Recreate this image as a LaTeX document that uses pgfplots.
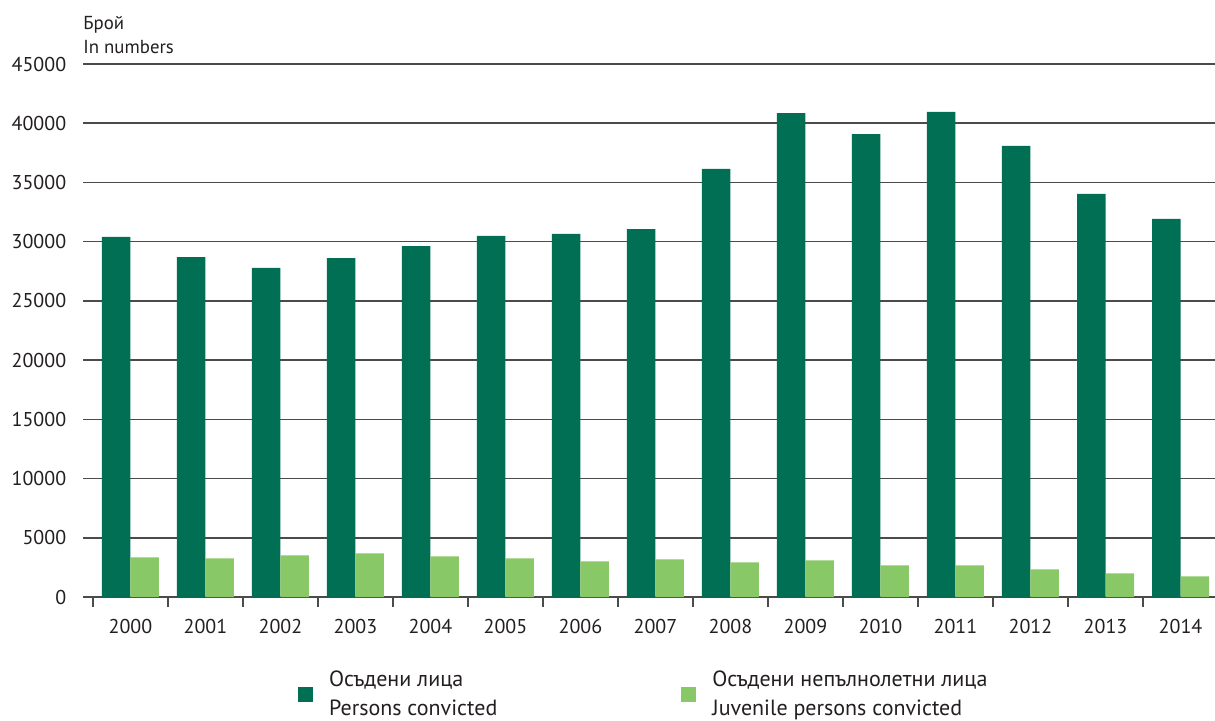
\documentclass[border=0pt]{standalone}
\usepackage{fontspec}
\setmainfont{PT Sans}
\usepackage{pgfplots}
\pgfplotsset{compat=1.18}
\definecolor{darkg}{RGB}{0,111,83}
\definecolor{lightg}{RGB}{137,200,102}
\definecolor{txt}{RGB}{35,31,32}
\definecolor{gridc}{RGB}{75,75,75}
\pgfplotstableread{
x dark light
0 30400 3340
1 28700 3260
2 27780 3510
3 28620 3680
4 29630 3425
5 30480 3260
6 30650 3005
7 31070 3170
8 36140 2920
9 40860 3090
10 39090 2670
11 40950 2670
12 38080 2330
13 34030 1995
14 31920 1740
}\datatable
\begin{document}
\begin{tikzpicture}
\path[use as bounding box] (0,0) rectangle (607.5pt,360pt);
\begin{axis}[
  at={(41.5pt,61.5pt)}, anchor=south west,
  scale only axis, width=566pt, height=266.5pt,
  ymin=0, ymax=45000,
  xmin=-0.632, xmax=14.46,
  ytick={0,5000,...,45000},
  scaled y ticks=false,
  xtick={0,...,14},
  xticklabels={2000,2001,2002,2003,2004,2005,2006,2007,2008,2009,2010,2011,2012,2013,2014},
  minor xtick={-0.5,0.5,...,13.5},
  xtick pos=bottom, ytick pos=left,
  major tick length=0pt,
  minor tick length=5pt,
  tick align=outside,
  minor tick style={gridc, line width=0.6pt},
  axis line style={draw=none},
  ymajorgrids,
  major grid style={gridc, line width=0.75pt},
  /pgf/number format/assume math mode=true,
  /pgf/number format/set thousands separator={},
  /pgf/number format/fixed,
  tick label style={font=\fontsize{10}{12}\selectfont, text=txt, inner sep=0pt},
  yticklabel shift=8.2pt,
  xticklabel shift=11pt,
  xticklabel style={anchor=north},
  ybar=0pt, bar width=14.25pt,
  legend columns=2,
  legend style={draw=none, fill=none, at={(0.19,-0.1830)}, anchor=west,
    inner sep=0pt, outer sep=0pt,
    font=\fontsize{11}{14.6}\selectfont, text=txt,
    nodes={align=left},
    /tikz/every odd column/.append style={column sep=6pt},
    /tikz/every even column/.append style={column sep=90pt}},
  legend image code/.code={\fill[#1] (0pt,-3.75pt) rectangle (7.5pt,3.75pt);},
]
\addplot[fill=darkg, draw=none] table[x=x, y=dark] {\datatable};
\addlegendentry{Осъдени лица\\Persons convicted}
\addplot[fill=lightg, draw=none] table[x=x, y=light] {\datatable};
\addlegendentry{Осъдени непълнолетни лица\\Juvenile persons convicted}
\end{axis}
\node[anchor=base west, inner sep=0pt, text=txt, font=\fontsize{9.4}{12}\selectfont] at (41.5pt,345.5pt) {Брой};
\node[anchor=base west, inner sep=0pt, text=txt, font=\fontsize{9.4}{12}\selectfont] at (41.5pt,333.5pt) {In numbers};
\end{tikzpicture}
\end{document}
